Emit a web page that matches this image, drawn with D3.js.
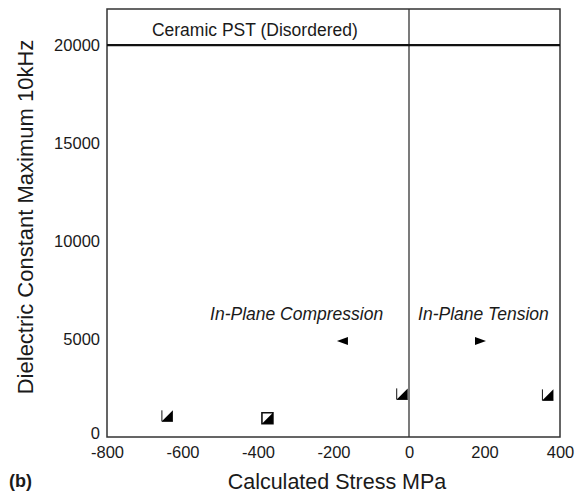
<!DOCTYPE html>
<html>
<head>
<meta charset="utf-8">
<script src="https://cdn.jsdelivr.net/npm/d3@7"></script>
<style>
  body { margin: 0; background: #fff; }
  text { font-family: "Liberation Sans", Arial, sans-serif; fill: #1a1a1a; }
</style>
</head>
<body>
<div id="chart"></div>
<script>
var width = 582, height = 495,
  margin = {top: 9, right: 22, bottom: 58, left: 107};

// data
var stress   = [-640, -375, -18, -175, 188, 368];
var epsMax   = [1080, 960, 2200, 4900, 4900, 2150];
var markType = ["half", "box", "half", "left", "right", "half"];

var xTicks = [-800, -600, -400, -200, 0, 200, 400];
var yTicks = [0, 5000, 10000, 15000, 20000];
var ceramicLevel = 20000;

var notes = [
  {txt: "Ceramic  PST (Disordered)", x: -681, y: 20480, it: false},
  {txt: "In-Plane Compression", x: -527, y: 5950, it: true},
  {txt: "In-Plane Tension", x: 24, y: 5950, it: true}
];

var svg = d3.select("#chart").append("svg")
  .attr("width", width)
  .attr("height", height);

var x = d3.scaleLinear().domain([-800, 400]).range([margin.left, width - margin.right]);
var y = d3.scaleLinear().domain([0, 21840]).range([height - margin.bottom, margin.top]);

// x tick labels (no tick marks), plain hyphen as in the figure
svg.append("g")
  .attr("transform", "translate(0," + (height - margin.bottom) + ")")
  .call(d3.axisBottom(x).tickValues(xTicks).tickSize(0).tickPadding(9).tickFormat(d => String(d)))
  .call(g => g.select(".domain").remove())
  .selectAll("text")
  .style("font-size", "16.5px")
  .style("font-family", "Liberation Sans, Arial, sans-serif")
  .attr("fill", "#1a1a1a");

svg.append("g")
  .attr("transform", "translate(" + margin.left + ",0)")
  .call(d3.axisLeft(y).tickValues(yTicks).tickSize(0).tickPadding(7).tickFormat(d => String(d)))
  .call(g => g.select(".domain").remove())
  .selectAll("text")
  .style("font-size", "16.5px")
  .style("font-family", "Liberation Sans, Arial, sans-serif")
  .attr("fill", "#1a1a1a")
  .attr("dy", d => d == 0 ? "0.12em" : "0.32em");

// plot frame
svg.append("rect")
  .attr("x", x(-800)).attr("y", y(21840))
  .attr("width", x(400) - x(-800))
  .attr("height", y(0) - y(21840))
  .attr("fill", "none")
  .attr("stroke", "#333")
  .attr("stroke-width", 1.5);

// zero stress line
svg.append("line")
  .attr("x1", x(0)).attr("x2", x(0))
  .attr("y1", y(0)).attr("y2", y(21840))
  .attr("stroke", "#333").attr("stroke-width", 1.3);

// ceramic level
svg.append("line")
  .attr("x1", x(-800)).attr("x2", x(400))
  .attr("y1", y(ceramicLevel)).attr("y2", y(ceramicLevel))
  .attr("stroke", "#111").attr("stroke-width", 2.2);

svg.selectAll(".note")
  .data(notes)
  .enter().append("text")
  .attr("class", "note")
  .attr("x", d => x(d.x))
  .attr("y", d => y(d.y))
  .style("font-size", "17.5px")
  .style("font-style", d => d.it ? "italic" : "normal")
  .text(d => d.txt);

// markers
var s = 5.5;
var shapes = {
  half: "M" + (-s) + "," + (-s) + "V" + s + "H" + s,
  box: "M" + (-s) + "," + (-s) + "H" + s + "V" + s + "H" + (-s) + "Z",
  tri: "M" + s + "," + (-s) + "V" + s + "H" + (-s) + "Z",
  left: "M-6,0L5,-4L5,4Z",
  right: "M6,0L-5,-4L-5,4Z"
};

var pts = svg.selectAll(".pt")
  .data(stress.map((d, i) => ({x: d, y: epsMax[i], t: markType[i]})))
  .enter().append("g")
  .attr("class", "pt")
  .attr("transform", d => "translate(" + x(d.x) + "," + y(d.y) + ")");

pts.filter(d => d.t == "half" || d.t == "box")
  .append("path")
  .attr("d", d => shapes[d.t])
  .attr("fill", "none")
  .attr("stroke", "#111")
  .attr("stroke-width", d => d.t == "box" ? 1.6 : 1);

pts.filter(d => d.t == "half" || d.t == "box")
  .append("path")
  .attr("d", shapes.tri)
  .attr("fill", "#000");

pts.filter(d => d.t == "left" || d.t == "right")
  .append("path")
  .attr("d", d => shapes[d.t])
  .attr("fill", "#000");

// axis titles
svg.append("text")
  .attr("transform", "translate(33,217)rotate(-90)")
  .attr("text-anchor", "middle")
  .style("font-size", "22px")
  .text("Dielectric Constant Maximum 10kHz");

svg.append("text")
  .attr("x", 337).attr("y", 489)
  .attr("text-anchor", "middle")
  .style("font-size", "21.5px")
  .text("Calculated Stress MPa");

svg.append("text")
  .attr("x", 9).attr("y", 487)
  .style("font-size", "18px")
  .style("font-weight", "bold")
  .text("(b)");
</script>
</body>
</html>
